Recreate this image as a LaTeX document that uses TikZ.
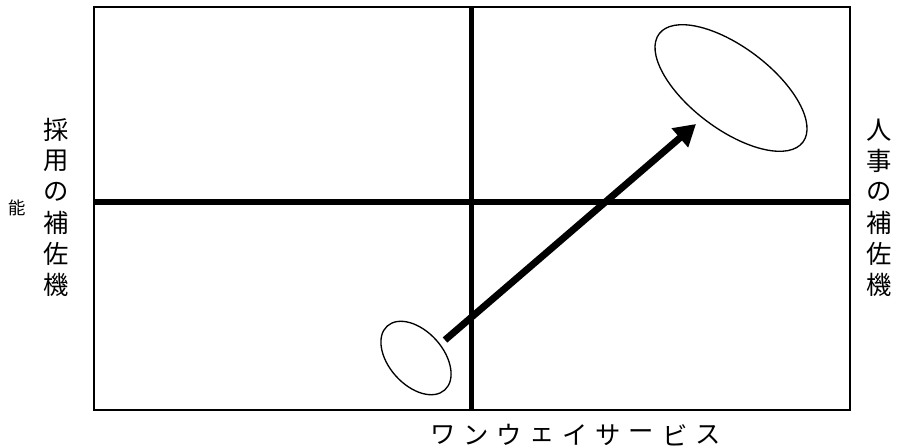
\documentclass[tikz,border=0pt]{standalone}
\usepackage{fontspec}
\newfontfamily\jpfont{Noto Sans CJK JP}
\usetikzlibrary{shapes.geometric, arrows.meta, positioning}
\tikzset{frame/.style={line width=1.5pt}}
\tikzset{divider/.style={line width=4.2pt}}
\tikzset{blob/.style={draw, ellipse, line width=1pt, inner sep=0pt}}
\tikzset{bigarrow/.style={line width=5.2pt, -{Triangle[length=16pt, width=18pt]}}}
\tikzset{label/.style={font=\jpfont\fontsize{19}{19}\selectfont, inner sep=0pt}}

\begin{document}
\begin{tikzpicture}[x=0.75pt, y=-0.75pt]
    \fill[white] (0,0) rectangle (899,447);
    \useasboundingbox (0,0) rectangle (899,447);

    % quadrant box
    \draw[frame] (94,7) rectangle (850,410);
    \draw[divider] (471.5,7) -- (471.5,410);
    \draw[divider] (94,202) -- (850,202);

    % ellipses
    \node[blob, minimum width=64.5pt, minimum height=40.5pt, rotate=-48] (small) at (416,358) {};
    \node[blob, minimum width=135pt, minimum height=61.5pt, rotate=-37] (big) at (731,88) {};

    \coordinate (Astart) at (445,340);
    \coordinate (Atip) at (696,124);
    \draw[bigarrow] (Astart) -- (Atip);

    % side labels
    \foreach \c [count=\i] in {採,用,の,補,佐,機}{
        \node[label] (L\i) at (56, 130+31*\i-31) {\c};
    }
    \foreach \c [count=\i] in {人,事,の,補,佐,機}{
        \node[label] (R\i) at (879, 130+31*\i-31) {\c};
    }
    \node[label, font=\jpfont\fontsize{13}{13}\selectfont] (extra) at (17,208) {能};

    % bottom label
    \foreach \c [count=\i] in {ワ,ン,ウ,ェ,イ,サ,ー,ビ,ス}{
        \node[label] (B\i) at (443+33.1*\i-33.1, 435) {\c};
    }
\end{tikzpicture}
\end{document}
